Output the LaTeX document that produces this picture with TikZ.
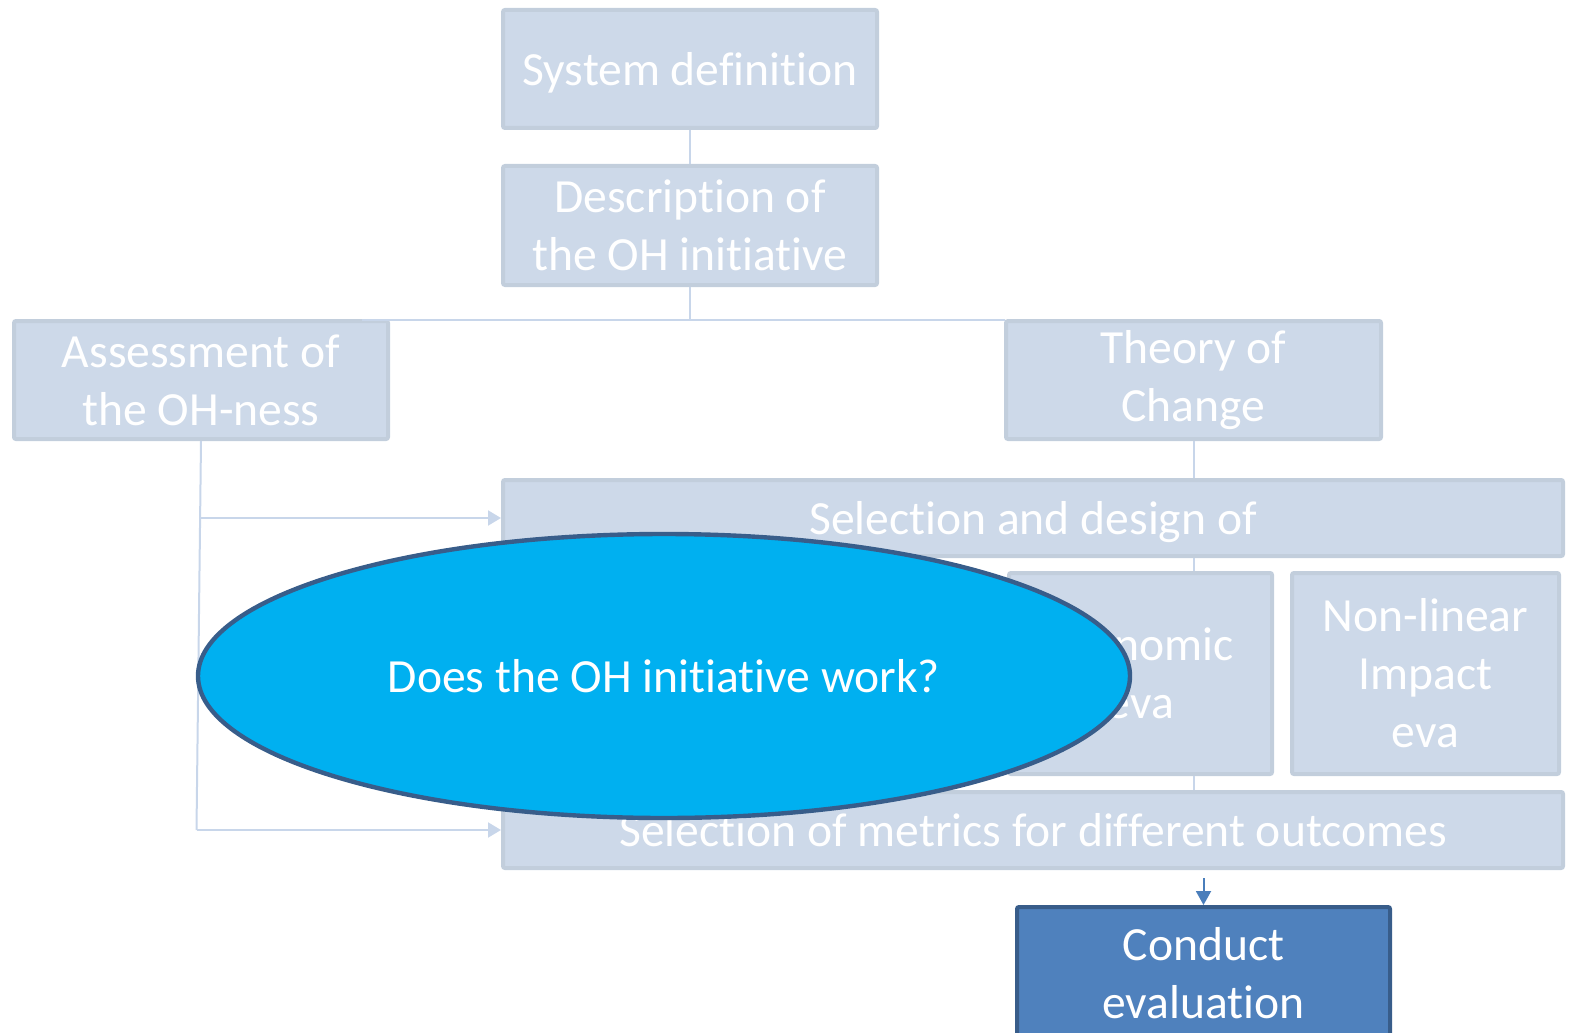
\documentclass[tikz,border=0pt]{standalone}
\usepackage{fontspec}
\setmainfont{Carlito}[Ligatures=NoCommon]
\usetikzlibrary{shapes.geometric,arrows.meta}
\definecolor{boxfill}{RGB}{205,217,233}
\definecolor{boxline}{RGB}{194,206,220}
\definecolor{connline}{RGB}{200,214,234}
\definecolor{ellfill}{RGB}{0,176,240}
\definecolor{ellline}{RGB}{56,93,138}
\definecolor{condfill}{RGB}{79,129,189}
\definecolor{condline}{RGB}{56,93,138}
\definecolor{arrowblue}{RGB}{74,126,187}
\tikzset{
  box/.style={rectangle, rounded corners=1pt, fill=boxfill, draw=boxline, line width=2pt,
    text=white, align=center, inner sep=0pt,
    font=\fontsize{23.8}{29}\selectfont},
  oneline/.style={text depth=0pt},
  condbox/.style={box, fill=condfill, draw=condline},
  question/.style={ellipse, fill=ellfill, draw=ellline, line width=2.2pt, inner sep=0pt,
    text=white, font=\fontsize{23.8}{29}\selectfont},
  conn/.style={draw=connline, line width=1pt},
  connarrow/.style={conn, -{Triangle[length=6.5pt,width=7.5pt]}},
  darkarrow/.style={draw=arrowblue, line width=1pt, -{Triangle[length=7pt,width=7.5pt]}}
}
\begin{document}
\begin{tikzpicture}[x=0.5pt,y=-0.5pt]
\useasboundingbox (0,0) rectangle (1577,1032);
% boxes
\node[box, oneline, minimum width=187pt, minimum height=59pt] (sys) at (690,69) {System definition};
\node[box, minimum width=187pt, minimum height=59.5pt] (desc) at (690,225.5) {Description of\\the OH initiative};
\node[box, minimum width=187pt, minimum height=59pt] (assess) at (201,380) {Assessment of\\the OH-ness};
\node[box, minimum width=187.5pt, minimum height=59pt] (toc) at (1193.5,380) {Theory of\\Change};
\node[box, oneline, minimum width=530pt, minimum height=38pt] (seldes) at (1033,518) {Selection and design of};
\node[box, minimum width=131.5pt, minimum height=100.5pt] (econ) at (1140.5,673.5) {Economic\\eva};
\node[box, minimum width=133.5pt, minimum height=100.5pt] (nonlin) at (1425.5,673.5) {Non-linear\\Impact\\eva};
\node[box, oneline, minimum width=530pt, minimum height=38pt] (metrics) at (1033,830) {Selection of metrics for different outcomes};
\node[condbox, minimum width=186.5pt, minimum height=66pt] (conduct) at (1203.5,973) {Conduct\\evaluation};
% connectors
\coordinate (hub) at (690,320);
\coordinate (hubL) at (362,320);
\coordinate (hubR) at (1005,320);
\coordinate (amid) at (200.5,518);
\coordinate (abot) at (196.5,830);
\draw[conn] (sys.south) -- (desc.north);
\draw[conn] (desc.south) -- (hub);
\draw[conn] (hubL) -- (hubR);
\draw[conn] (toc.south) -- (seldes.north -| toc.south);
\draw[conn] (seldes.south -| toc.south) -- (econ.north -| toc.south);
\draw[conn] (econ.south -| toc.south) -- (metrics.north -| toc.south);
\draw[conn] (assess.south) -- (abot);
\draw[connarrow] (amid) -- (seldes.west);
\draw[connarrow] (abot) -- (metrics.west);
\draw[darkarrow, shorten <=4pt] (metrics.south -| conduct.north) -- (conduct.north);
% question ellipse
\node[question, oneline, minimum width=466pt, minimum height=142pt] (q) at (664,676) {Does the OH initiative work?};
\end{tikzpicture}
\end{document}
